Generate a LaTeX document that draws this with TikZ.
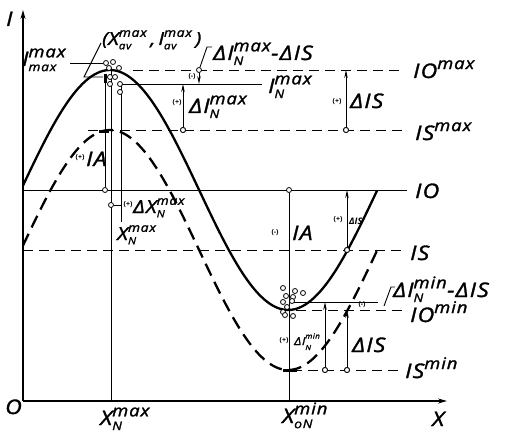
\documentclass[tikz,border=0pt]{standalone}
\usepackage{fontspec}
\setmainfont{Open Sans}[ItalicFeatures={FakeBold=1.6,FakeStretch=1.15,LetterSpace=6}]
\usetikzlibrary{arrows.meta}
\newcommand\fA{\fontsize{20}{20}\selectfont\itshape}
\newcommand\fS{\fontsize{16}{16}\selectfont\itshape}
\newcommand\fN{\fontsize{12}{12}\selectfont\itshape}
\newcommand\fB{\fontsize{18}{18}\selectfont\itshape}
\newcommand\fBs{\fontsize{12}{12}\selectfont\itshape}
\newcommand\fBn{\fontsize{10}{10}\selectfont\itshape}
\newcommand\fs{\fontsize{11}{11}\selectfont\itshape}
\newcommand\fss{\fontsize{7}{7}\selectfont\itshape}
\newcommand\fT{\fontsize{7}{7}\selectfont\bfseries}
\newcommand\SP[2]{\ensuremath{\mbox{#1}^{\mbox{\fS #2}}}}
\newcommand\SPB[3]{\ensuremath{\mbox{#1}^{\mbox{\fS #2}}_{\mbox{\fN #3}}}}
\newcommand\SPBb[3]{\ensuremath{\mbox{#1}^{\mbox{\fBs #2}}_{\mbox{\fBn #3}}}}
\newcommand\SPBt[3]{#1\rlap{\raisebox{6.5pt}{\fss #2}}\raisebox{-5pt}{\fss #3}\hphantom{\fss #2}}
\tikzset{
  thinl/.style={line width=0.9pt},
  axisl/.style={line width=1.4pt,-{Stealth[length=9pt,width=5pt]}},
  curvel/.style={line width=2.3pt},
  dsh/.style={line width=0.9pt,dash pattern=on 10pt off 6pt},
  dshc/.style={line width=2.3pt,dash pattern=on 13pt off 7pt},
  dot/.style={circle,draw,fill=white,inner sep=0pt,minimum size=5pt,line width=0.8pt},
  arr/.style={line width=0.9pt,-{Stealth[length=8pt,width=3.5pt]}},
  tick/.style={line width=3pt},
  lbl/.style={inner sep=0pt,anchor=base west,font=\fA},
  tinyl/.style={inner sep=0pt,font=\fT},
}
\begin{document}
\begin{tikzpicture}[x=1pt,y=-1pt]
\useasboundingbox (0,0) rectangle (505,433);
% axes
\coordinate (O) at (23,401);
\coordinate (Ytop) at (23,10);
\coordinate (Xend) at (447,401);
\draw[axisl] (O) -- (Ytop);
\draw[axisl] (O) -- (Xend);
% horizontal levels
\coordinate (io1) at (23,190);  \coordinate (io2) at (407,190);
\coordinate (is1) at (23,250);  \coordinate (is2) at (405,250);
\coordinate (iomx1) at (133,70); \coordinate (iomx2) at (403,70);
\coordinate (ismx1) at (88,130); \coordinate (ismx2) at (405,130);
\coordinate (inmx1) at (121,84); \coordinate (inmx2) at (262,84);
\coordinate (iomn1) at (296,310); \coordinate (iomn2) at (405,310);
\coordinate (inmn1) at (290,302); \coordinate (inmn2) at (378,302);
\coordinate (ismn1) at (292,370); \coordinate (ismn2) at (403,370);
\draw[thinl] (io1) -- (io2);
\draw[dsh] (is1) -- (is2);
\draw[dsh] (iomx1) -- (iomx2);
\draw[dsh] (ismx1) -- (ismx2);
\draw[thinl] (inmx1) -- (inmx2);
\draw[dsh] (iomn1) -- (iomn2);
\draw[thinl] (inmn1) -- (inmn2);
\draw[dsh] (ismn1) -- (ismn2);
% curves
\draw[curvel] plot[domain=23:377,samples=120,smooth] (\x,{190-120*cos(1.01*(\x-110))});
\draw[dshc] plot[domain=23:377,samples=120,smooth] (\x,{250-120*cos(1.01*(\x-110))});
% verticals
\coordinate (v1t) at (105,75);
\coordinate (v2t) at (111,68); \coordinate (v2b) at (111,401);
\coordinate (v3b) at (121,222);
\coordinate (v4b) at (289,401);
\node[dot] (cIA) at (105,190) {};
\node[dot] (cIAr) at (289,190) {};
\draw[thinl] (v1t) -- (cIA);
\draw[thinl] (v2t) -- (v2b);
\draw[thinl] (inmx1) -- (v3b);
\draw[thinl] (cIAr) -- (v4b);
% dX
\node[dot] (cdx) at (111,205) {};
\coordinate (dxe) at (122,205);
\draw[thinl] (cdx) -- (dxe);
% arrows
\node[dot] (c1) at (183,130) {}; \coordinate (t1) at (183,84);
\node[dot] (c2) at (199,70) {};  \coordinate (t2) at (199,84);
\node[dot] (c3) at (346,130) {}; \coordinate (t3) at (346,70);
\node[dot] (c4) at (347,250) {}; \coordinate (t4) at (347,190);
\node[dot] (c5) at (325,370) {}; \coordinate (t5) at (325,302);
\node[dot] (c6) at (347,370) {}; \coordinate (t6) at (347,310);
\draw[arr] (c1) -- (t1);
\draw[arr] (c2) -- (t2);
\draw[arr] (c3) -- (t3);
\draw[arr] (c4) -- (t4);
\draw[arr] (c5) -- (t5);
\draw[arr] (c6) -- (t6);
\node[dot] (c1) at (183,130) {};
\node[dot] (c3) at (346,130) {};
\node[dot] (c4) at (347,250) {};
\node[dot] (c5) at (325,370) {};
\node[dot] (c6) at (347,370) {};
% ticks
\coordinate (k1a) at (99,131); \coordinate (k1b) at (109,131);
\coordinate (k2a) at (283,370); \coordinate (k2b) at (297,370);
\coordinate (k3a) at (105,74); \coordinate (k3b) at (105,83);
\draw[tick] (k1a) -- (k1b);
\draw[tick] (k2a) -- (k2b);
\draw[tick] (k3a) -- (k3b);
% clusters
\foreach \a/\b [count=\i] in {106/63,113/62,109/68,119/68,110/77,115/77,110/84,120/84,120/92}
  \node[dot] (ct\i) at (\a,\b) {};
\foreach \a/\b [count=\i] in {283/288,295/291,303/293,286/296,293/297,283/302,292/301,287/307,283/312,285/315,293/316}
  \node[dot] (cb\i) at (\a,\b) {};
% labels
\node[lbl] (lI) at (6,26) {I};
\node[lbl] (lO) at (5,414) {O};
\node[lbl] (lX) at (432,426) {X};
\node[lbl] (lXN) at (100,425) {\SPB{X}{max}{N}};
\node[lbl] (lXo) at (282,423) {\SPB{X}{min}{oN}};
\node[lbl] (lIO) at (415,198) {IO};
\node[lbl] (lIS) at (410,260) {IS};
\node[lbl] (lIOmx) at (413,78) {\SP{IO}{max}};
\node[lbl] (lISmx) at (415,140) {\SP{IS}{max}};
\node[lbl] (lIOmn) at (410,322) {\SP{IO}{min}};
\node[lbl] (lISmn) at (405,378) {\SP{IS}{min}};
\node[lbl] (ldIS1) at (350,108) {ΔIS};
\node[tinyl] (p1) at (337,102) {(+)};
\node[lbl] (ldIN) at (189,113) {\SPB{ΔI}{max}{N}};
\node[tinyl] (p2) at (177,103) {(+)};
\node[lbl] (ldINS) at (213,60) {\SPB{ΔI}{max}{N}-ΔIS};
\node[tinyl] (p3) at (192,77) {(-)};
\node[lbl] (lIN) at (268,93) {\SPB{I}{max}{N}};
\node[lbl] (lImm) at (22,66) {\SPB{I}{max}{max}};
\node[lbl,font=\fB] (lav) at (102,45) {(\SPBb{X}{max}{av}\,,\,\SPBb{I}{max}{av}\,)};
\node[tinyl] (p4) at (80,158) {(+)};
\node[lbl] (lIA1) at (86,166) {IA};
\node[tinyl] (p5) at (128,205) {(+)};
\node[lbl,font=\fB] (ldX) at (133,213) {\SPBb{ΔX}{max}{N}};
\node[lbl,font=\fB] (lXN2) at (117,240) {\SPBb{X}{max}{N}};
\node[tinyl] (p6) at (275,233) {(-)};
\node[lbl] (lIA2) at (292,240) {IA};
\node[tinyl] (p7) at (338,220) {(+)};
\node[lbl,font=\fontsize{9}{9}\selectfont\bfseries\itshape] (ldIS2) at (349,224) {ΔIS};
\node[tinyl] (p8) at (284,341) {(+)};
\node[lbl,font=\fs] (ldINm) at (294,345) {\SPBt{ΔI}{min}{N}};
\node[lbl] (ldIS3) at (352,352) {ΔIS};
\node[lbl] (ldINSm) at (393,297) {\SPB{ΔI}{min}{N}-ΔIS};
\node[tinyl] (p9) at (362,305) {(-)};
% leaders
\coordinate (L1a) at (70,63); \coordinate (L1b) at (103,63);
\draw[thinl] (L1a) -- (L1b);
\coordinate (L2a) at (101,43); \coordinate (L2b) at (84,77); \coordinate (L2c) at (103,77);
\draw[thinl] (L2a) -- (L2b) -- (L2c);
\coordinate (L3a) at (212,47); \coordinate (L3b) at (207,47);
\draw[thinl] (L3a) -- (L3b) -- (c2);
\coordinate (L4a) at (395,287); \coordinate (L4b) at (391,287); \coordinate (L4c) at (384,306);
\draw[thinl] (L4a) -- (L4b) -- (L4c);
\end{tikzpicture}
\end{document}
